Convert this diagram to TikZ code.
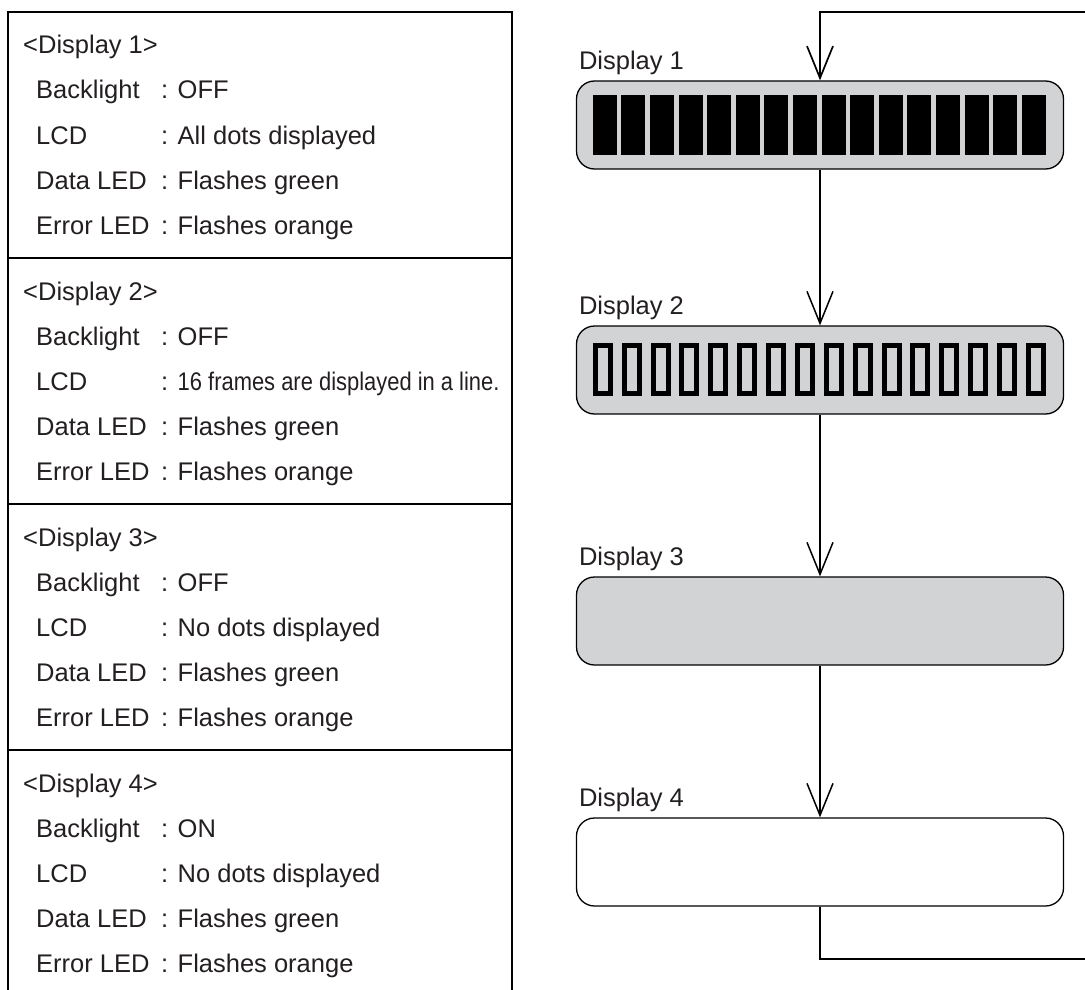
\documentclass[tikz,border=0pt]{standalone}
\usepackage{fontspec}
\setmainfont{Liberation Sans}
\newfontfamily\narrowfont[FakeStretch=0.86]{Liberation Sans}
\usetikzlibrary{calc}
\usetikzlibrary{arrows.meta}

\definecolor{lcdgray}{HTML}{D1D3D4}
\definecolor{inkgray}{HTML}{231F20}

\begin{document}
\begin{tikzpicture}[x=1pt, y=-1pt, every node/.style={inner sep=0pt},
    txt/.style={anchor=base west, text=inkgray, font=\fontsize{25.5}{30}\selectfont},
    lcdbox/.style={draw, line width=1.3pt, rounded corners=18pt, minimum width=487pt, minimum height=88pt},
    flow/.style={line width=1.5pt, -{Straight Barb[length=32pt, width=26pt]}}]
    \useasboundingbox (0,0) rectangle (1085,990);
    \clip (0,0) rectangle (1085,990);

    % 1. left table with the four settings
    \draw[line width=2pt] (8,12) rectangle (512,1010);
    \foreach \y in {258,504,750}
        \draw[line width=2pt] (8,\y) -- (512,\y);

    \foreach \k/\blval/\lcdtext in {1/OFF/{All dots displayed},
            2/OFF/{\narrowfont 16 frames are displayed in a line.},
            3/OFF/{No dots displayed}, 4/ON/{No dots displayed}} {
        \node[txt] (title\k) at (23, {54+246*(\k-1)}) {<Display \k>};
        \node[txt] (bl\k) at (36, {99+246*(\k-1)}) {\makebox[125pt][l]{Backlight}: \blval};
        \node[txt] (lcd\k) at (36, {144+246*(\k-1)}) {\makebox[125pt][l]{LCD}: \lcdtext};
        \node[txt] (dled\k) at (36, {189+246*(\k-1)}) {\makebox[125pt][l]{Data LED}: Flashes green};
        \node[txt] (eled\k) at (36, {234+246*(\k-1)}) {\makebox[125pt][l]{Error LED}: Flashes orange};
    }

    % 2. the four LCD panels
    \node[lcdbox, fill=lcdgray] (d1) at (820,125) {};
    \node[lcdbox, fill=lcdgray] (d2) at (820,370) {};
    \node[lcdbox, fill=lcdgray] (d3) at (820,621) {};
    \node[lcdbox, fill=white] (d4) at (820,862) {};

    \node[txt] (name1) at ($(d1.north west)+(3,-11)$) {Display 1};
    \node[txt] (name2) at ($(d2.north west)+(3,-11)$) {Display 2};
    \node[txt] (name3) at ($(d3.north west)+(3,-11)$) {Display 3};
    \node[txt] (name4) at ($(d4.north west)+(3,-11)$) {Display 4};

    % 3. all dots on / empty frames
    \foreach \i in {0,...,15}
        \fill ($(d1.west)+(17+28.6*\i,-30)$) rectangle ++(24,60);
    \foreach \i in {0,...,15}
        \draw[line width=5pt] ($(d2.west)+(19.5+28.87*\i,-24.5)$) rectangle ++(15,48);

    % 4. flow from panel to panel, and back to the top
    \draw[flow] (d1.south) -- (d2.north);
    \draw[flow] (d2.south) -- (d3.north);
    \draw[flow] (d3.south) -- (d4.north);

    \coordinate (loopB) at (1100,959);
    \coordinate (loopT) at (1100,12);
    \draw[flow, line width=1.7pt] (d4.south) |- (loopB) -- (loopT) -| (d1.north);

\end{tikzpicture}
\end{document}
